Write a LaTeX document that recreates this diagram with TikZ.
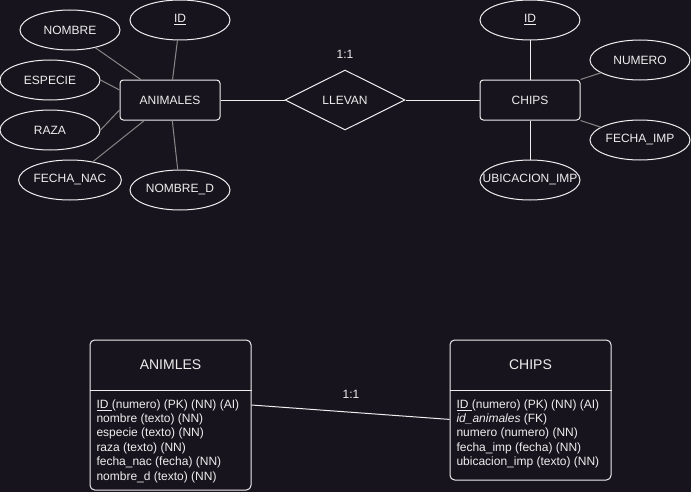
\documentclass[tikz,border=0pt]{standalone}
\usepackage{fontspec}
\setmainfont{Liberation Sans}
\usetikzlibrary{shapes.geometric}
\usetikzlibrary{calc}
\definecolor{fondo}{RGB}{24,20,29}
\definecolor{trazo}{RGB}{238,238,238}
\definecolor{gris}{RGB}{135,135,135}

\begin{document}
\begin{tikzpicture}[x=0.75pt,y=-0.75pt,line width=0.75pt,
		every node/.style={text=trazo,font=\fontsize{9}{10.8}\selectfont},
		entidad/.style={draw=trazo,fill=fondo,rounded corners=2.5pt,minimum width=75pt,minimum height=30pt,inner sep=0pt},
		atributo/.style={draw=trazo,fill=fondo,ellipse,minimum width=75pt,minimum height=30pt,inner sep=0pt},
		relacion/.style={draw=trazo,fill=fondo,diamond,minimum width=90pt,minimum height=45pt,inner sep=0pt},
		tabla/.style={draw=trazo,fill=fondo,rounded corners=3.5pt,minimum width=120.75pt,inner sep=0pt},
		titulo/.style={font=\fontsize{10.5}{12.6}\selectfont},
		fila/.style={anchor=west,inner sep=0pt}]
		\useasboundingbox (0,0) rectangle (691,492);
		\fill[fondo] (0,0) rectangle (691,492);
		\node[entidad] (animales) at (170,100) {ANIMALES};
		\node[atributo] (a-nombre) at (70,30) {NOMBRE};
		\node[atributo] (a-id) at (180,20) {\underline{ID}};
		\node[atributo] (a-especie) at (50,80) {ESPECIE};
		\node[atributo] (a-raza) at (50,130) {RAZA};
		\node[atributo] (a-fecha) at (70,180) {FECHA\_NAC};
		\node[atributo] (a-nombred) at (180,190) {NOMBRE\_D};
		\node[relacion] (llevan) at (345,100) {LLEVAN};
		\node (card-er) at (345,54) {1:1};
		\node[entidad] (chips) at (530,100) {CHIPS};
		\node[atributo] (c-id) at (530,20) {\underline{ID}};
		\node[atributo] (c-numero) at (640,60) {NUMERO};
		\node[atributo] (c-fecha) at (640,140) {FECHA\_IMP};
		\node[atributo] (c-ubic) at (530,180) {\makebox[0pt]{UBICACION\_IMP}};
		\draw[gris] (a-nombre) -- (animales);
		\draw[gris] (a-id) -- (animales);
		\draw[gris] (a-especie.east) -- ($(animales.west)+(0,-10)$);
		\draw[gris] (a-raza.east) -- ($(animales.west)+(0,10)$);
		\draw[gris] (a-fecha) -- (animales);
		\draw[gris] (a-nombred) -- (animales);
		\draw[trazo] (animales) -- (llevan);
		\draw[trazo] (llevan) -- (chips);
		\draw[trazo] (c-id) -- (chips);
		\draw[gris] (chips.north east) -- (c-numero);
		\draw[gris] (chips.south east) -- (c-fecha);
		\draw[trazo] (chips) -- (c-ubic);
		\node[tabla,minimum height=112.5pt] (t-anim) at (170.5,415) {};
		\draw[trazo] ($(t-anim.north west)+(0,50.7)$) -- ($(t-anim.north east)+(0,50.7)$);
		\node[titulo] (t-anim-tit) at (170.5,365) {ANIMLES};
		\node[fila] (t-anim-1) at (96,405) {\underline{ID\ }(numero) (PK) (NN) (AI)};
		\node[fila] (t-anim-2) at (96,419.4) {nombre (texto) (NN)};
		\node[fila] (t-anim-3) at (96,433.8) {especie (texto) (NN)};
		\node[fila] (t-anim-4) at (96,448.2) {raza (texto) (NN)};
		\node[fila] (t-anim-5) at (96,462.6) {fecha\_nac (fecha) (NN)};
		\node[fila] (t-anim-6) at (96,477) {nombre\_d (texto) (NN)};
		\node[tabla,minimum height=105pt] (t-chip) at (530.5,410) {};
		\draw[trazo] ($(t-chip.north west)+(0,50.7)$) -- ($(t-chip.north east)+(0,50.7)$);
		\node[titulo] (t-chip-tit) at (530.5,365) {CHIPS};
		\node[fila] (t-chip-1) at (456,405) {\underline{ID\ }(numero) (PK) (NN) (AI)};
		\node[fila] (t-chip-2) at (456,419.4) {\textit{id\_animales} (FK)};
		\node[fila] (t-chip-3) at (456,433.8) {numero (numero) (NN)};
		\node[fila] (t-chip-4) at (456,448.2) {fecha\_imp (fecha) (NN)};
		\node[fila] (t-chip-5) at (456,462.6) {ubicacion\_imp (texto) (NN)};
		\draw[trazo] (t-anim.east |- t-anim-1) -- (t-chip.west |- t-chip-2);
		\node (card-rel) at (351,394) {1:1};
	\end{tikzpicture}
\end{document}
